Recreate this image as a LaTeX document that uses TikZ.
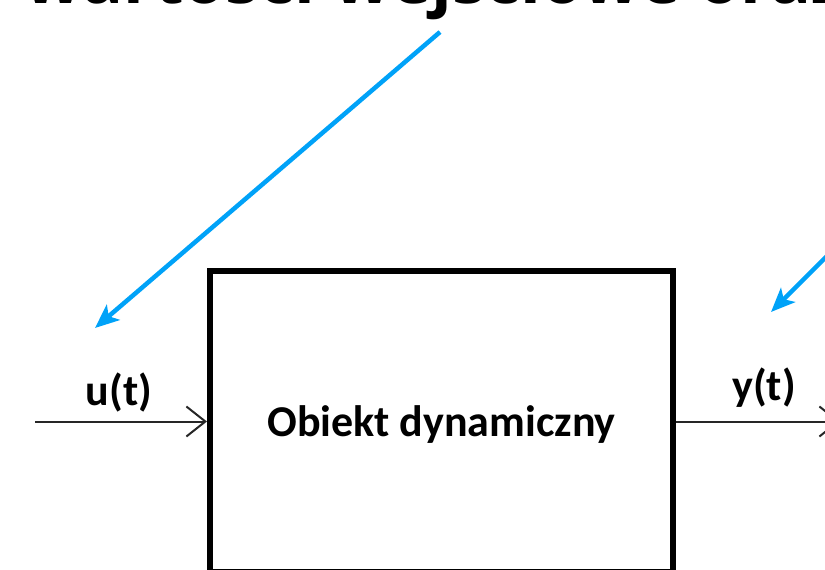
\documentclass[tikz,border=0pt]{standalone}
\usepackage{fontspec}
\setmainfont{Carlito}
\newfontfamily\titlefont{Open Sans}
\usetikzlibrary{positioning, arrows.meta}
\definecolor{pointer}{HTML}{00A2F8}

\begin{document}
\begin{tikzpicture}[x=1pt, y=-1pt,
  signal/.style={draw=black!85, line width=2pt, -{Straight Barb[length=19pt,width=30pt]}},
  hint/.style={draw=pointer, line width=4.5pt, -{Stealth[length=24pt,width=20pt,inset=6pt]}},
  lbl/.style={font=\fontsize{44}{48}\selectfont\bfseries, inner sep=0pt}]
\useasboundingbox (0,0) rectangle (825,570);
\clip (0,0) rectangle (825,570);
% heading, cut off at the top
\node[anchor=base west, inner sep=0pt, font=\titlefont\fontsize{68}{80}\selectfont\bfseries] (title) at (24,3) {wartości wejściowe oraz wyjściowe};
% block
\node[draw, line width=6pt, minimum width=463pt, minimum height=301pt, text depth=0pt, lbl] (obiekt) at (441.5,421.5) {Obiekt dynamiczny};
% input and output
\coordinate (in) at (35,421.5);
\coordinate (out) at (840,421.5);
\draw[signal] (in) -- (obiekt.west);
\draw[signal] (obiekt.east) -- (out);
\node[lbl] (u) at (119,392) {u(t)};
\node[lbl] (y) at (764,388) {y(t)};
% pointers from the heading
\coordinate (p1) at (440,32);
\coordinate (p1e) at (95,328);
\coordinate (p2) at (842,241);
\coordinate (p2e) at (771,312);
\draw[hint] (p1) -- (p1e);
\draw[hint] (p2) -- (p2e);
\end{tikzpicture}
\end{document}
